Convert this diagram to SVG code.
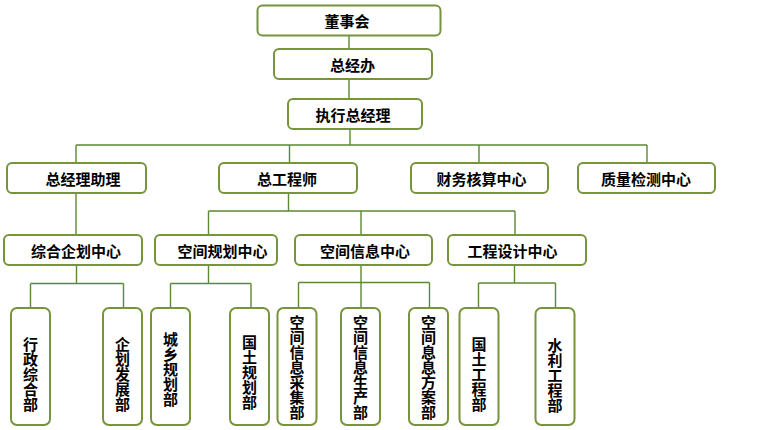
<svg xmlns="http://www.w3.org/2000/svg" width="764" height="430" viewBox="0 0 764 430">
<style>
.box{fill:#fff;stroke:#77933C;stroke-width:2}
.t{font-family:"Noto Sans CJK SC","Noto Sans",sans-serif;font-weight:bold;font-size:15px;fill:#000;text-anchor:middle;dominant-baseline:central}
.v{font-family:"Noto Sans CJK SC","Noto Sans",sans-serif;font-weight:bold;font-size:15px;fill:#000;text-anchor:middle;writing-mode:vertical-rl;letter-spacing:0px}
.c{fill:none;stroke:#5A8A32;stroke-width:1.4}
</style>
<rect width="764" height="430" fill="#fff"/>
<g id="connectors" class="c">
<path d="M349,35V49M349,79V99M350,129V145M76,145H647M76,145V163M289.5,145V163M479,145V163M647,145V163"/>
<path d="M76,193V235M288.5,193V211M208.5,211H515M208.5,211V235M361,211V235M515,211V235"/>
<path d="M76.5,265V283.5M30.5,283.5H123.5M30.5,283.5V308M123.5,283.5V308"/>
<path d="M208.5,265V283.5M170.5,283.5H251M170.5,283.5V308M251,283.5V308"/>
<path d="M361,265V282.5M298.5,282.5H429.5M298.5,282.5V308M361,282.5V308M429.5,282.5V308"/>
<path d="M514.5,265V283M478.5,283H555.5M478.5,283V308M555.5,283V308"/>
</g>
<g id="n1"><rect class="box" x="257.5" y="5.5" width="183" height="30" rx="5"/><text class="t" x="347" y="20.5">董事会</text></g>
<g id="n2"><rect class="box" x="274" y="49" width="158" height="30" rx="5"/><text class="t" x="352.5" y="64">总经办</text></g>
<g id="n3"><rect class="box" x="288" y="99" width="134" height="30" rx="5"/><text class="t" x="353" y="114">执行总经理</text></g>
<g id="n4"><rect class="box" x="7" y="163" width="139" height="30" rx="5"/><text class="t" x="83" y="178">总经理助理</text></g>
<g id="n5"><rect class="box" x="219" y="163" width="138" height="30" rx="5"/><text class="t" x="287" y="178">总工程师</text></g>
<g id="n6"><rect class="box" x="411" y="163" width="137" height="30" rx="5"/><text class="t" x="481.5" y="178">财务核算中心</text></g>
<g id="n7"><rect class="box" x="578" y="163" width="137" height="30" rx="5"/><text class="t" x="646" y="178">质量检测中心</text></g>
<g id="n8"><rect class="box" x="4" y="235" width="138" height="30" rx="5"/><text class="t" x="76" y="250">综合企划中心</text></g>
<g id="n9"><rect class="box" x="155" y="235" width="122" height="30" rx="5"/><text class="t" x="222.5" y="250">空间规划中心</text></g>
<g id="n10"><rect class="box" x="295" y="235" width="137" height="30" rx="5"/><text class="t" x="365" y="250">空间信息中心</text></g>
<g id="n11"><rect class="box" x="448" y="235" width="138" height="30" rx="5"/><text class="t" x="512.5" y="250">工程设计中心</text></g>
<g id="n12"><rect class="box" x="11" y="308" width="39" height="117" rx="6"/><text class="v" x="30.5" y="374">行政综合部</text></g>
<g id="n13"><rect class="box" x="103" y="308" width="39" height="117" rx="6"/><text class="v" x="122.5" y="374">企划发展部</text></g>
<g id="n14"><rect class="box" x="151" y="308" width="39" height="117" rx="6"/><text class="v" x="170.5" y="369">城乡规划部</text></g>
<g id="n15"><rect class="box" x="230" y="308" width="39" height="117" rx="6"/><text class="v" x="249.5" y="372">国土规划部</text></g>
<g id="n16"><rect class="box" x="277.5" y="308" width="39" height="117" rx="6"/><text class="v" x="297" y="367.5">空间信息采集部</text></g>
<g id="n17"><rect class="box" x="341" y="308" width="39" height="117" rx="6"/><text class="v" x="360.5" y="367.5">空间信息生产部</text></g>
<g id="n18"><rect class="box" x="409" y="308" width="39" height="117" rx="6"/><text class="v" x="428.5" y="367.5">空间息息方案部</text></g>
<g id="n19"><rect class="box" x="459.5" y="308" width="39" height="117" rx="6"/><text class="v" x="479" y="374">国土工程部</text></g>
<g id="n20"><rect class="box" x="535.5" y="308" width="39" height="117" rx="6"/><text class="v" x="555" y="375">水利工程部</text></g>
</svg>
